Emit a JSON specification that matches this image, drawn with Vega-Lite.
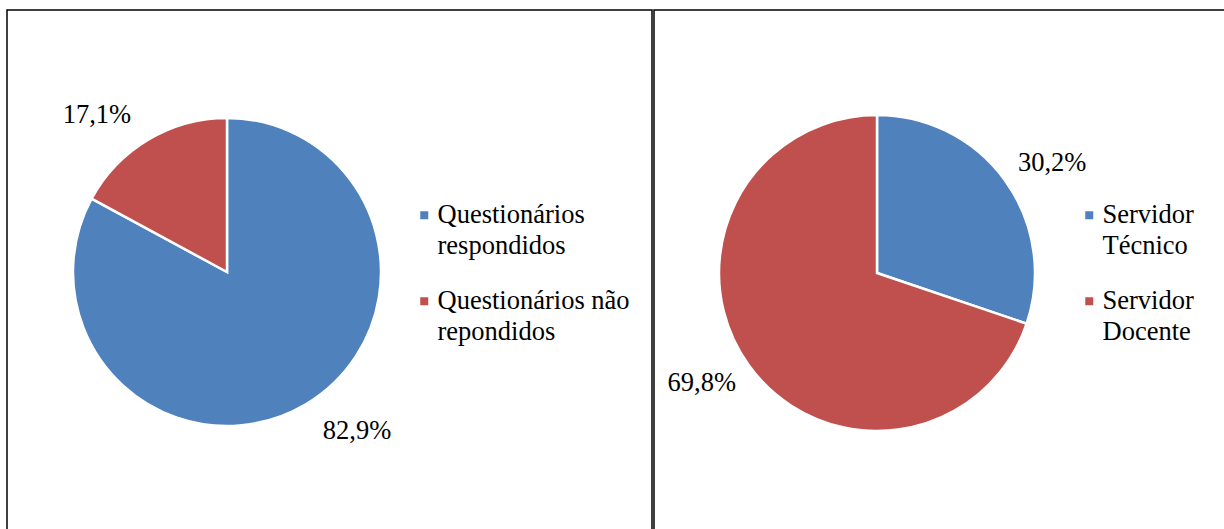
{
  "$schema": "https://vega.github.io/schema/vega-lite/v6.json",
  "padding": {"left": 6, "top": 9, "right": 0, "bottom": 0},
  "spacing": 0,
  "background": "white",
  "resolve": {"scale": {"color": "independent", "theta": "independent"}},
  "config": {
    "view": {"stroke": null},
    "font": "Liberation Serif",
    "style": {"guide-label": {"lineHeight": 31}},
    "locale": {"number": {"decimal": ",", "thousands": ".", "grouping": [3], "currency": ["R$", ""]}},
    "legend": {
      "orient": "none",
      "title": null,
      "padding": 0,
      "labelFont": "Liberation Serif",
      "labelFontSize": 26.5,
      "labelColor": "black",
      "symbolType": "square",
      "symbolSize": 64,
      "symbolStrokeWidth": 0,
      "labelOffset": 0,
      "labelLimit": 400,
      "rowPadding": 28
    }
  },
  "hconcat": [
    {
      "width": 645,
      "height": 522,
      "data": {"values": [
        {"categoria": "Questionários respondidos", "percentual": 0.829, "ordem": 1},
        {"categoria": "Questionários não repondidos", "percentual": 0.171, "ordem": 2}
      ]},
      "layer": [
        {
          "data": {"values": [{"moldura": "painel"}]},
          "mark": {"type": "rect", "x": 0, "x2": "width", "y": 0, "y2": "height", "fill": null, "stroke": "black", "strokeWidth": 1.5},
          "encoding": {}
        },
        {
          "mark": {"type": "arc", "x": 220, "y": 262, "outerRadius": 154, "stroke": "white", "strokeWidth": 2.5},
          "encoding": {
            "theta": {"field": "percentual", "type": "quantitative", "stack": true},
            "order": {"field": "ordem", "type": "quantitative"},
            "color": {
              "field": "categoria", "type": "nominal",
              "scale": {"domain": ["Questionários respondidos", "Questionários não repondidos"], "range": ["#4F81BD", "#C0504D"]},
              "legend": {
                "legendX": 404, "legendY": 192,
                "labelExpr": "[slice(datum.label, 0, lastindexof(datum.label, ' ')), slice(datum.label, lastindexof(datum.label, ' ') + 1)]",
                "encode": {"labels": {"update": {"lineHeight": {"value": 31}, "dy": {"value": 15.5}}}}
              }
            }
          }
        },
        {
          "mark": {"type": "text", "x": 220, "y": 263, "radius": 205, "thetaOffset": -0.15, "fontSize": 26.5, "font": "Liberation Serif", "color": "black", "align": "center", "baseline": "middle"},
          "encoding": {
            "theta": {"field": "percentual", "type": "quantitative", "stack": true},
            "order": {"field": "ordem", "type": "quantitative"},
            "detail": {"field": "categoria", "type": "nominal"},
            "text": {"field": "percentual", "type": "quantitative", "format": ".1%"}
          }
        }
      ]
    },
    {
      "width": 574,
      "height": 522,
      "data": {"values": [
        {"categoria": "Servidor Técnico", "percentual": 0.302, "ordem": 1},
        {"categoria": "Servidor Docente", "percentual": 0.698, "ordem": 2}
      ]},
      "layer": [
        {
          "data": {"values": [{"moldura": "painel"}]},
          "mark": {"type": "rect", "x": 0, "x2": "width", "y": 0, "y2": "height", "fill": null, "stroke": "black", "strokeWidth": 1.5},
          "encoding": {}
        },
        {
          "mark": {"type": "arc", "x": 223, "y": 263, "outerRadius": 158, "stroke": "white", "strokeWidth": 2.5},
          "encoding": {
            "theta": {"field": "percentual", "type": "quantitative", "stack": true},
            "order": {"field": "ordem", "type": "quantitative"},
            "color": {
              "field": "categoria", "type": "nominal",
              "scale": {"domain": ["Servidor Técnico", "Servidor Docente"], "range": ["#4F81BD", "#C0504D"]},
              "legend": {
                "legendX": 422, "legendY": 192,
                "labelExpr": "[slice(datum.label, 0, lastindexof(datum.label, ' ')), slice(datum.label, lastindexof(datum.label, ' ') + 1)]",
                "encode": {"labels": {"update": {"lineHeight": {"value": 31}, "dy": {"value": 15.5}}}}
              }
            }
          }
        },
        {
          "mark": {"type": "text", "x": 223, "y": 263, "radius": 207, "thetaOffset": 0.06, "fontSize": 26.5, "font": "Liberation Serif", "color": "black", "align": "center", "baseline": "middle"},
          "encoding": {
            "theta": {"field": "percentual", "type": "quantitative", "stack": true},
            "order": {"field": "ordem", "type": "quantitative"},
            "detail": {"field": "categoria", "type": "nominal"},
            "text": {"field": "percentual", "type": "quantitative", "format": ".1%"}
          }
        }
      ]
    }
  ]
}
